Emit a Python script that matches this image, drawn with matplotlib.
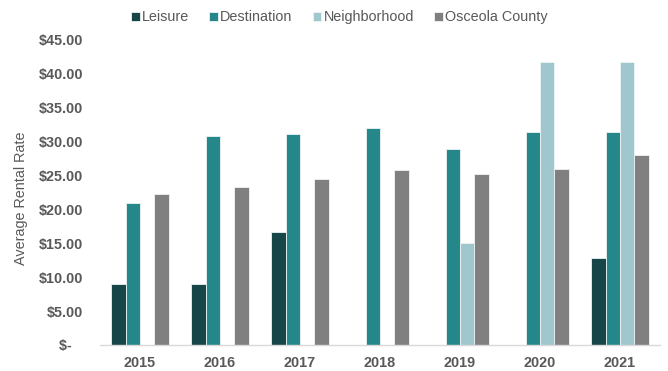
import matplotlib.pyplot as plt
import numpy as np

plt.rcParams["font.family"] = ["Liberation Sans", "DejaVu Sans"]

years = ["2015", "2016", "2017", "2018", "2019", "2020", "2021"]
leisure = [9.0, 9.0, 16.6, np.nan, np.nan, np.nan, 12.9]
destination = [21.0, 30.8, 31.2, 32.0, 28.9, 31.4, 31.4]
neighborhood = [np.nan, np.nan, np.nan, np.nan, 15.0, 41.8, 41.8]
osceola = [22.3, 23.3, 24.5, 25.8, 25.2, 25.9, 28.0]

series = [
    ("Leisure", leisure, "#164648"),
    ("Destination", destination, "#26878B"),
    ("Neighborhood", neighborhood, "#A0C7CE"),
    ("Osceola County", osceola, "#808080"),
]

text_color = "#595959"
fs = 10.4

fig = plt.figure(figsize=(6.68, 3.71), dpi=100)
ax = fig.add_axes([0.1497, 0.0701, 0.8383, 0.8221])

x = np.arange(len(years))
width = 0.18
for i, (label, values, color) in enumerate(series):
    offset = (i - 1.5) * width
    ax.bar(x + offset, values, width, label=label, color=color,
           edgecolor="#eef4f4", linewidth=0.6)

ax.set_xlim(-0.5, len(years) - 0.5)
ax.set_ylim(0, 45)
ax.set_yticks(np.arange(0, 46, 5))
ax.set_yticklabels(["$-   "] + [f"${v:.2f}" for v in np.arange(5, 46, 5)])
ax.set_xticks(x)
ax.set_xticklabels(years)

for side in ["top", "right", "left"]:
    ax.spines[side].set_visible(False)
ax.spines["bottom"].set_color("#d9d9d9")
ax.spines["bottom"].set_linewidth(1.0)

ax.tick_params(axis="y", length=0, pad=12, labelsize=fs, labelcolor=text_color)
ax.tick_params(axis="x", length=0, pad=8, labelsize=fs, labelcolor=text_color)
for lbl in ax.get_yticklabels() + ax.get_xticklabels():
    lbl.set_fontweight("bold")

ax.set_ylabel("Average Rental Rate", fontsize=fs, color=text_color)
ax.yaxis.set_label_coords(-0.128, 0.48)

leg = fig.legend(loc="center", bbox_to_anchor=(0.508, 0.953), ncol=4,
                 frameon=False, fontsize=fs, handlelength=0.6, handleheight=0.6,
                 handletextpad=0.15, columnspacing=1.4)
for t in leg.get_texts():
    t.set_color(text_color)

fig.savefig("out.png", dpi=100)
